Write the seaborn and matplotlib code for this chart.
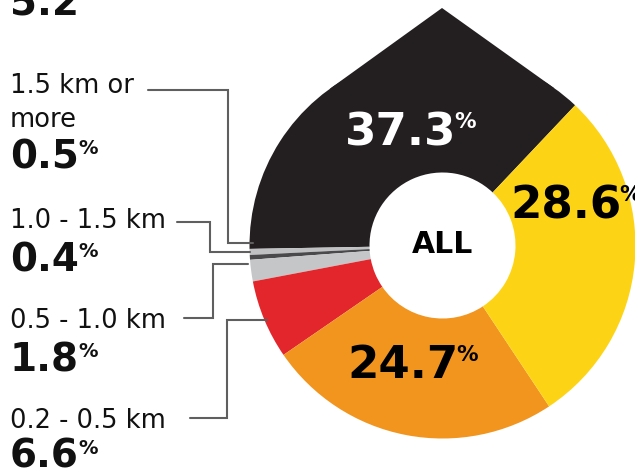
import matplotlib
matplotlib.use("Agg")
import matplotlib.pyplot as plt
import seaborn as sns
import numpy as np
from matplotlib.patches import Polygon

sns.set_theme(style="white")
plt.rcParams["font.family"] = ["DejaVu Sans"]

# Share of trips by distance band (percent), counter-clockwise from the dark wedge
shares = [37.3, 0.5, 0.4, 1.8, 6.6, 24.7, 28.6]
band_labels = ["", "1.5 km or\nmore", "1.0 - 1.5 km", "0.5 - 1.0 km", "0.2 - 0.5 km", "", ""]
share_text = ["37.3", "0.5", "0.4", "1.8", "6.6", "24.7", "28.6"]
slice_colors = sns.color_palette(
    ["#231f20", "#bfc1c3", "#4a4a4c", "#c4c6c8", "#e3262b", "#f2951f", "#fdd415"]
)
center_label = "ALL"
previous_value = "5.2"

W, H = 635, 474
fig = plt.figure(figsize=(W / 100, H / 100), dpi=100)
ax = fig.add_axes([0, 0, 1, 1])

cx, cy = 442.5, H - 245.5
r_out, r_in = 193, 73

wedges, _ = ax.pie(
    shares,
    colors=slice_colors,
    startangle=46.6,
    counterclock=True,
    radius=r_out,
    center=(cx, cy),
    wedgeprops=dict(width=r_out - r_in, linewidth=0),
)

# pointed crown on top of the dark wedge (tangent lines meeting at the tip)
tip = np.array([442.0, H - 8.0])
dist = np.hypot(tip[0] - cx, tip[1] - cy)
half = np.degrees(np.arccos(r_out / dist))
base = np.degrees(np.arctan2(tip[1] - cy, tip[0] - cx))
pts = [tip]
for a in (base - half, base + half):
    pts.append([cx + r_out * np.cos(np.radians(a)), cy + r_out * np.sin(np.radians(a))])
ax.add_patch(Polygon(pts, closed=True, facecolor=slice_colors[0], edgecolor="none", zorder=0.5))


def value_with_pct(x, y, txt, size, color, pct_size, dx=-1.5, dy=-1):
    t = ax.text(x, H - y, txt, fontsize=size, fontweight="bold", color=color,
                ha="left", va="baseline", zorder=5)
    ax.annotate("%", xy=(1, 1), xycoords=t, xytext=(dx, dy), textcoords="offset points",
                fontsize=pct_size, fontweight="bold", color=color, ha="left", va="top", zorder=5)
    return t


# value labels inside the ring
value_with_pct(345, 145, share_text[0], 32.5, "white", 15.5)
value_with_pct(510, 218, share_text[6], 32.5, "black", 15.5)
value_with_pct(347, 378, share_text[5], 32.5, "black", 15.5)

ax.text(cx, H - 244.5, center_label, fontsize=21.5, fontweight="bold", color="black",
        ha="center", va="center", zorder=5)

# left-hand callouts for the thin slices (y = baseline of the last text line)
label_x = 10
callouts = [
    (band_labels[1], 127, share_text[1], 168),
    (band_labels[2], 228, share_text[2], 271),
    (band_labels[3], 328, share_text[3], 371),
    (band_labels[4], 428, share_text[4], 468),
]
for lab, yb, val, yv in callouts:
    ax.text(label_x, H - yb, lab, fontsize=18.5, color="#111111", ha="left", va="baseline",
            linespacing=1.38)
    value_with_pct(label_x, yv, val, 28, "#111111", 14, dx=-0.5)

leader_paths = [
    [(148, 90), (228, 90), (228, 243), (253, 243)],
    [(177, 222), (210, 222), (210, 252), (250, 252)],
    [(184, 318), (213, 318), (213, 264), (248, 264)],
    [(190, 418), (227, 418), (227, 320), (267, 320)],
]
for path in leader_paths:
    xs = [p[0] for p in path]
    ys = [H - p[1] for p in path]
    ax.plot(xs, ys, color="#5f5f5f", lw=1.5, solid_joinstyle="miter", zorder=4)

# tail of the previous figure's value, cut off by the top edge
ax.text(label_x, H - 15, previous_value, fontsize=28, fontweight="bold", color="#111111",
        ha="left", va="baseline")

ax.set_xlim(0, W)
ax.set_ylim(0, H)
ax.set_aspect("equal")
ax.axis("off")
fig.savefig("out.png", dpi=100, facecolor="white")
